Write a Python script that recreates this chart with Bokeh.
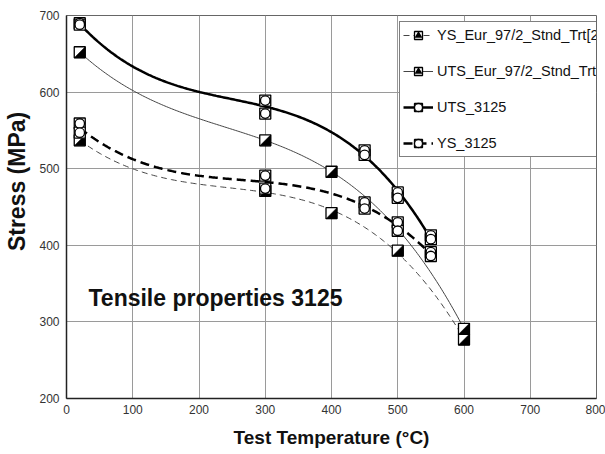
import numpy as np
from bokeh.plotting import figure
from bokeh.models import (ColumnDataSource, Legend, LegendItem, FixedTicker, Label)
from bokeh.embed import file_html
from bokeh.resources import INLINE

# ---- data ----
ys_eur_t = [20, 300, 400, 500, 600]
ys_eur = [537, 471, 442, 393, 277]
uts_eur_t = [20, 300, 400, 600]
uts_eur = [652, 537, 496, 291]
uts_3125_t = [20, 20, 300, 300, 450, 450, 500, 500, 550, 550]
uts_3125 = [690, 688, 589, 572, 524, 518, 469, 462, 413, 408]
ys_3125_t = [20, 20, 300, 300, 450, 450, 500, 500, 550, 550]
ys_3125 = [559, 547, 491, 474, 456, 448, 430, 419, 391, 386]

x_ticks = [0, 100, 200, 300, 400, 500, 600, 700, 800]
y_ticks = [200, 300, 400, 500, 600, 700]

names = ["YS_Eur_97/2_Stnd_Trt[23]", "UTS_Eur_97/2_Stnd_Trt[23]", "UTS_3125", "YS_3125"]

# ---- layout ----
W, H = 605, 454
BL, BR, BT, BB = 66, 9, 15, 56
FW, FH = W - BL - BR, H - BT - BB
XR, YR = (0, 800), (200, 700)
ux = (XR[1] - XR[0]) / FW   # data units per pixel
uy = (YR[1] - YR[0]) / FH


def cubic_fit(xs, ys, n=240):
    xs = np.asarray(xs, float)
    ys = np.asarray(ys, float)
    c = np.polyfit(xs, ys, 3)
    xx = np.linspace(xs.min(), xs.max(), n)
    return xx, np.polyval(c, xx)


p = figure(width=W, height=H, x_range=XR, y_range=YR,
           output_backend="svg", toolbar_location=None,
           min_border_left=BL, min_border_right=BR, min_border_top=BT, min_border_bottom=BB)
p.background_fill_color = "white"
p.border_fill_color = "white"
p.outline_line_color = "#666666"
p.outline_line_width = 1

p.xaxis.ticker = FixedTicker(ticks=x_ticks)
p.yaxis.ticker = FixedTicker(ticks=y_ticks)
for ax in (p.xaxis, p.yaxis):
    ax.major_tick_out = 0
    ax.major_tick_in = 0
    ax.minor_tick_out = 0
    ax.minor_tick_in = 0
    ax.axis_line_color = "#222222"
    ax.axis_line_width = 1.5
    ax.major_label_text_font = "Liberation Sans"
    ax.major_label_text_font_size = "12px"
    ax.major_label_text_color = "#333333"
    ax.axis_label_text_font = "Liberation Sans"
    ax.axis_label_text_font_style = "bold"
    ax.axis_label_text_color = "#111111"
p.xaxis.major_label_standoff = 6
p.yaxis.major_label_standoff = 7
p.xaxis.axis_label = "Test Temperature (°C)"
p.xaxis.axis_label_text_font_size = "19px"
p.xaxis.axis_label_standoff = 10
# leading no-break spaces push the visible title a little above the frame centre
p.yaxis.axis_label = "\u00a0" * 8 + "Stress (MPa)"
p.yaxis.axis_label_text_font_size = "23px"
p.yaxis.axis_label_standoff = 6

p.grid.grid_line_color = "#9a9a9a"
p.grid.grid_line_width = 1

# ---- curves ----
styles = [
    dict(color="#444444", width=1, dash="6 4"),
    dict(color="#444444", width=1, dash="solid"),
    dict(color="black", width=2.5, dash="solid"),
    dict(color="black", width=2.5, dash="9 5"),
]
series = [
    (ys_eur_t, ys_eur, True),
    (uts_eur_t, uts_eur, True),
    (uts_3125_t, uts_3125, False),
    (ys_3125_t, ys_3125, False),
]

line_r = []
for (tx, vy, _), st in zip(series, styles):
    xx, yy = cubic_fit(tx, vy)
    r = p.line(xx, yy, line_color=st["color"], line_width=st["width"], line_dash=st["dash"])
    line_r.append(r)

SQ = 11
items = []
for i, ((tx, vy, half), st) in enumerate(zip(series, styles)):
    src = ColumnDataSource(dict(x=tx, y=vy))
    rends = [line_r[i]]
    if half:
        # small black triangle only used for the legend glyph (hidden under the square in the plot)
        tri = p.scatter("x", "y", source=src, marker="triangle", size=7, angle=-3 * np.pi / 4,
                        fill_color="black", line_color="black", line_width=0)
        sq = p.scatter("x", "y", source=src, marker="square", size=SQ,
                       fill_color="white", line_color="black", line_width=1.3)
        dx = (SQ / 2) * ux
        dy = (SQ / 2) * uy
        xs_p = [[x + dx, x + dx, x - dx] for x in tx]
        ys_p = [[y + dy, y - dy, y - dy] for y in vy]
        p.patches(xs_p, ys_p, fill_color="black", line_color="black", line_width=0.5)
        rends += [sq, tri]
    else:
        sq = p.scatter("x", "y", source=src, marker="square", size=SQ,
                       fill_color="white", line_color="black", line_width=1.3)
        ci = p.scatter("x", "y", source=src, marker="circle", size=SQ - 1.5,
                       fill_color="white", line_color="black", line_width=1.3)
        rends += [sq, ci]
    items.append(LegendItem(label=names[i], renderers=rends))

legend = Legend(items=items, location=(333, 241))
legend.border_line_color = "black"
legend.border_line_width = 1
legend.background_fill_color = "white"
legend.background_fill_alpha = 1
legend.label_text_font = "Liberation Sans"
legend.label_text_font_size = "14.5px"
legend.label_text_color = "#111111"
legend.glyph_width = 30
legend.glyph_height = 20
legend.label_height = 20
legend.spacing = 16
legend.padding = 3
legend.margin = 0
legend.label_standoff = 4
p.add_layout(legend)

title = Label(x=22, y=101, x_units="screen", y_units="screen",
              text="Tensile properties 3125", text_font="Liberation Sans",
              text_font_style="bold", text_font_size="23px", text_color="#111111",
              text_baseline="alphabetic")
p.add_layout(title)

open("out.html", "w").write(file_html(p, INLINE))
